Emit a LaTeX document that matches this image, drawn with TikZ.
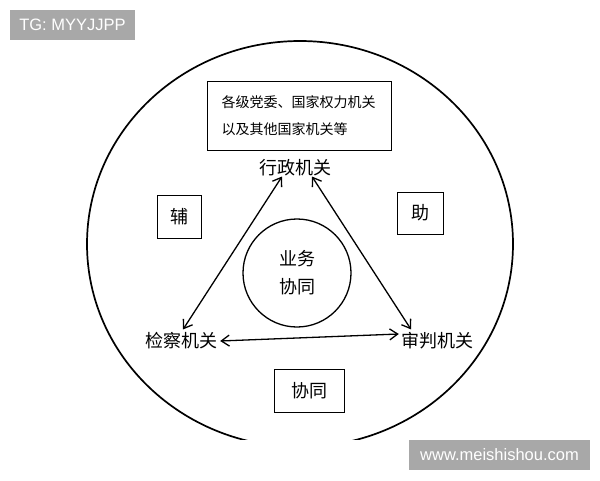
\documentclass[tikz,border=0pt]{standalone}
\usepackage{fontspec}
\setmainfont{Liberation Sans}
\newfontfamily\cjk{Noto Sans CJK SC}
\usetikzlibrary{arrows.meta}
\begin{document}
\begin{tikzpicture}[x=1pt,y=-1pt,
  lbl/.style={font=\cjk\fontsize{18}{20}\selectfont, inner sep=0pt},
  sbox/.style={draw, line width=1pt, font=\cjk\fontsize{18}{20}\selectfont, minimum height=43pt, inner sep=0pt},
  wm/.style={fill=black!34, text=white, font=\fontsize{16.5}{18}\selectfont, inner sep=0pt, minimum height=30pt},
  link/.style={line width=1.3pt, {Straight Barb[length=8pt,width=11pt]}-{Straight Barb[length=8pt,width=11pt]}}
]
\useasboundingbox (0,0) rectangle (600,480);
\fill[white] (0,0) rectangle (600,480);
\begin{scope}
\clip (0,0) rectangle (600,439);
\draw[line width=1.7pt] (300,244) ellipse [x radius=213, y radius=203];
\end{scope}

\node[draw, line width=1pt, minimum width=184pt, minimum height=69pt, inner sep=0pt,
      text width=155pt, align=left, font=\cjk\fontsize{14}{27}\selectfont] (top) at (299,115.5)
  {各级党委、国家权力机关\\以及其他国家机关等};
\node[lbl] (xz) at (295,168) {行政机关};
\node[sbox, minimum width=44pt] (fu) at (179,216.5) {辅};
\node[sbox, minimum width=46pt, minimum height=42pt] (zhu) at (420,213) {助};
\node[draw, circle, line width=1.3pt, minimum size=108pt, inner sep=0pt, align=center,
      font=\cjk\fontsize{18}{28}\selectfont] (yw) at (297,273) {业务\\协同};
\node[lbl] (jc) at (181,341) {检察机关};
\node[lbl] (sp) at (437,341) {审判机关};
\node[sbox, minimum width=70pt] (xt) at (309,390.5) {协同};

\draw[link] ([xshift=-13pt]xz.south) -- ([xshift=2pt,yshift=3pt]jc.north);
\draw[link] ([xshift=17pt]xz.south) -- ([xshift=-26pt,yshift=3pt]sp.north);
\draw[link] ([xshift=3pt]jc.east) -- ([yshift=7pt,xshift=-2pt]sp.west);

\node[wm, minimum width=125pt] (tg) at (72.5,25) {TG: MYYJJPP};
\node[wm, minimum width=181pt] (site) at (499.5,455) {www.meishishou.com};
\end{tikzpicture}
\end{document}
